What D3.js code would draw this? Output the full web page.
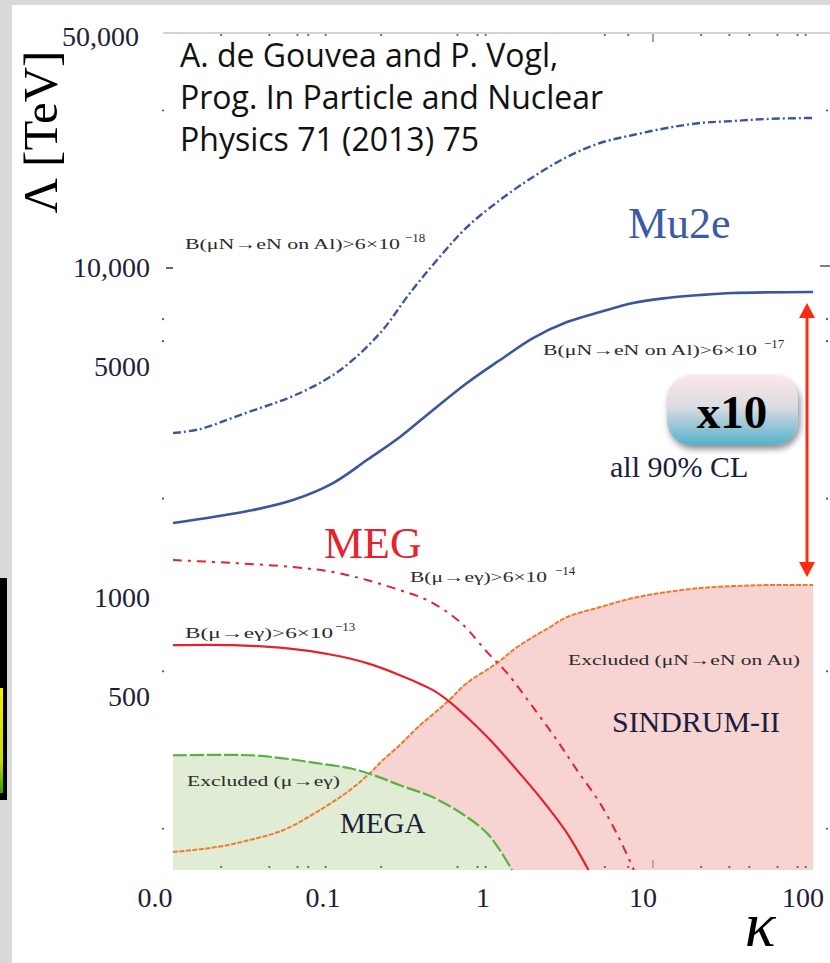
<!DOCTYPE html>
<html>
<head>
<meta charset="utf-8">
<script src="https://cdn.jsdelivr.net/npm/d3@7/dist/d3.min.js"></script>
<style>
  body { margin: 0; background: #d9d9d9; }
  svg { display: block; }
</style>
</head>
<body>
<div id="chart-area"></div>
<script>
// Lambda (TeV) vs kappa, de Gouvea & Vogl style plot

// tick values and labels
var kappaTicks = [0.01, 0.1, 1, 10, 100];
var kappaLabels = ["0.0", "0.1", "1", "10", "100"];
var kappaMinor = [0.02, 0.04, 0.06, 0.07, 0.09, 0.2, 0.6, 0.8, 0.9, 5, 7, 20, 30, 40, 60, 80, 90];
var lambdaTicks = [500, 1000, 5000, 10000, 50000];
var lambdaLabels = ["500", "1000", "5000", "10,000", "50,000"];
var lambdaMinor = [200, 600, 2000, 6000, 7000, 30000];

// series: [kappa, Lambda in TeV]
var mu2eDashed = [[0.01,3162],[0.0148,3251],[0.0262,3585],[0.0622,4181],[0.111,4909],[0.197,6353],[0.303,8403],[0.487,11100],[0.688,13310],[1.106,16070],[1.778,18870],[2.90,21700],[4.67,23920],[7.50,25290],[12.2,26550],[19.7,27500],[31.6,27880],[51.6,28290],[100,28490]];
var mu2eSolid = [[0.01,1688],[0.0178,1760],[0.0316,1848],[0.0562,1982],[0.1,2231],[0.163,2619],[0.262,3075],[0.422,3714],[0.688,4482],[1.106,5262],[1.778,6135],[2.90,6859],[4.67,7356],[7.50,7834],[12.2,8111],[19.7,8282],[31.6,8398],[100,8457]];
var megDashed = [[0.01,1304],[0.0237,1277],[0.0562,1241],[0.1,1199],[0.163,1134],[0.262,1057],[0.387,986],[0.622,846],[0.931,681],[1.223,593],[1.778,467],[2.51,371],[3.35,301],[4.67,239],[6.22,185],[7.6,150]];
var megSolid = [[0.01,720],[0.0237,720],[0.0487,706],[0.1,672],[0.163,635],[0.262,584],[0.422,526],[0.538,484],[0.718,427],[1.0,364],[1.413,301],[1.967,249],[2.90,194],[3.95,150]];
var megaExcl = [[0.01,334],[0.0303,334],[0.0487,327],[0.0794,316],[0.1277,305],[0.178,291],[0.262,271],[0.422,249],[0.688,217],[0.917,194],[1.106,172],[1.315,150]];
var sindrumExcl = [[0.01,170],[0.0188,176],[0.0303,185],[0.0487,198],[0.0794,225],[0.1277,262],[0.170,295],[0.205,323],[0.262,359],[0.335,404],[0.516,484],[0.688,553],[1.059,635],[1.413,710],[2.27,817],[2.90,876],[4.67,939],[7.50,1000],[12.2,1043],[19.7,1072],[31.6,1087],[51.6,1095],[100,1095]];

var W = 830, H = 963;
var svg = d3.select("#chart-area").append("svg")
	.attr("width", W).attr("height", H)
var defs = svg.append("defs")

// page background (slide)
svg.append("rect").attr("width", W).attr("height", H).attr("fill", "#d9d9d9")
svg.append("rect").attr("x", 12).attr("y", 5).attr("width", W - 12).attr("height", H - 5).attr("fill", "#ffffff")

// left slide fragment
svg.append("rect").attr("x", 0).attr("y", 578).attr("width", 7).attr("height", 222).attr("fill", "#000")
var gradLeft = defs.append("linearGradient").attr("id", "gl")
	.attr("x1", 0).attr("x2", 0).attr("y1", 0).attr("y2", 1)
gradLeft.append("stop").attr("offset", "0%").attr("stop-color", "#f5f000")
gradLeft.append("stop").attr("offset", "70%").attr("stop-color", "#c8d800")
gradLeft.append("stop").attr("offset", "100%").attr("stop-color", "#2aa000")
svg.append("rect").attr("x", 0).attr("y", 688).attr("width", 3).attr("height", 105).attr("fill", "url(#gl)")

// scales
var x = d3.scaleLog().domain([0.01, 100]).range([173, 813])
var y = d3.scaleLog().domain([150, 50000]).range([870, 37.3])

var serif = "'Liberation Serif', 'DejaVu Serif', serif"
var curve = d3.curveCatmullRom.alpha(0.5)

// fills
var area = d3.area()
	.x(d => x(d[0]))
	.y0(y(150))
	.y1(d => y(d[1]))
	.curve(curve)

svg.append("path").datum(sindrumExcl)
	.attr("d", area).attr("fill", "#f7d3d1")
svg.append("path").datum(megaExcl)
	.attr("d", area).attr("fill", "#e0edd4")

// axes frame: top line
svg.append("line")
	.attr("x1", 163).attr("x2", W).attr("y1", 33).attr("y2", 33)
	.attr("stroke", "#c4c4c4").attr("stroke-width", 1.5)

// minor ticks (dots) top/bottom
kappaMinor.forEach(k => {
	[35, 867].forEach(yy => {
		svg.append("circle").attr("cx", x(k)).attr("cy", yy).attr("r", 1.1).attr("fill", "#555")
	})
})
// major tick at 10 (top and bottom)
svg.append("line").attr("x1", x(10)).attr("x2", x(10)).attr("y1", 34).attr("y2", 42).attr("stroke", "#666").attr("stroke-width", 1.2)
svg.append("line").attr("x1", x(10)).attr("x2", x(10)).attr("y1", 860).attr("y2", 868).attr("stroke", "#888").attr("stroke-width", 1.2)

// minor ticks left/right
lambdaMinor.forEach(v => {
	[163, 827].forEach(xx => {
		svg.append("circle").attr("cx", xx).attr("cy", y(v)).attr("r", 1.1).attr("fill", "#555")
	})
})
svg.append("line").attr("x1", 166).attr("x2", 173).attr("y1", y(10000)).attr("y2", y(10000)).attr("stroke", "#333").attr("stroke-width", 1.5)
svg.append("line").attr("x1", 820).attr("x2", 830).attr("y1", y(10000) - 2).attr("y2", y(10000) - 2).attr("stroke", "#555").attr("stroke-width", 1.5)

// y tick labels
lambdaTicks.forEach((v, i) => {
	svg.append("text")
		.attr("x", v === 50000 ? 139 : 150)
		.attr("y", y(v) + 9)
		.attr("text-anchor", "end")
		.attr("font-family", serif)
		.attr("font-size", "28px")
		.attr("fill", "#1e1e3a")
		.text(lambdaLabels[i])
})

// x tick labels
kappaTicks.forEach((k, i) => {
	svg.append("text")
		.attr("x", x(k) - (i === 0 ? 18 : 10))
		.attr("y", 907)
		.attr("text-anchor", "middle")
		.attr("font-family", serif)
		.attr("font-size", "28px")
		.attr("fill", "#1e1e3a")
		.text(kappaLabels[i])
})

// curves
var line = d3.line()
	.x(d => x(d[0]))
	.y(d => y(d[1]))
	.curve(curve)

var curves = [
	{ data: sindrumExcl, color: "#f07a2a", width: 2, dash: "5,1.5" },
	{ data: megaExcl, color: "#5cb043", width: 2.2, dash: "14,3" },
	{ data: megSolid, color: "#e4222c", width: 2.2, dash: null },
	{ data: megDashed, color: "#e4222c", width: 2, dash: "9,6,3,6" },
	{ data: mu2eSolid, color: "#3b56a0", width: 2.6, dash: null },
	{ data: mu2eDashed, color: "#3b56a0", width: 2.4, dash: "8,3,2,3" }
]
curves.forEach(c => {
	svg.append("path").datum(c.data)
		.attr("d", line)
		.attr("fill", "none")
		.attr("stroke", c.color)
		.attr("stroke-width", c.width)
		.attr("stroke-dasharray", c.dash)
})

// small curve labels
function smallLabel(x0, y0, len, main, sup, supX) {
	svg.append("text")
		.attr("x", x0).attr("y", y0)
		.attr("font-family", serif)
		.attr("font-size", "15px")
		.attr("fill", "#2a2a2a")
		.attr("textLength", len)
		.attr("lengthAdjust", "spacingAndGlyphs")
		.text(main)
	if (sup) {
		svg.append("text")
			.attr("x", supX).attr("y", y0 - 7)
			.attr("font-family", serif)
			.attr("font-size", "13px")
			.attr("fill", "#2a2a2a")
			.text(sup)
	}
}
smallLabel(185, 249, 215, "B(\u03bcN\u2192eN on Al)>6\u00d710", "\u221218", 405)
smallLabel(543, 355, 214, "B(\u03bcN\u2192eN on Al)>6\u00d710", "\u221217", 764)
smallLabel(410, 582, 137, "B(\u03bc\u2192e\u03b3)>6\u00d710", "\u221214", 555)
smallLabel(185, 638, 148, "B(\u03bc\u2192e\u03b3)>6\u00d710", "\u221213", 335)
smallLabel(187, 786, 153, "Excluded (\u03bc\u2192e\u03b3)")
smallLabel(568, 665, 232, "Excluded (\u03bcN\u2192eN on Au)")

// experiment names
svg.append("text").attr("x", 628).attr("y", 238)
	.attr("font-family", serif).attr("font-size", "44px").attr("fill", "#3b5ba6")
	.text("Mu2e")
svg.append("text").attr("x", 324).attr("y", 558)
	.attr("font-family", serif).attr("font-size", "44px").attr("fill", "#e6232d")
	.text("MEG")
svg.append("text").attr("x", 610).attr("y", 477)
	.attr("font-family", serif).attr("font-size", "30px").attr("fill", "#1c1c40")
	.text("all 90% CL")
svg.append("text").attr("x", 612).attr("y", 732)
	.attr("font-family", serif).attr("font-size", "29px").attr("fill", "#1c1c40")
	.attr("textLength", 168).attr("lengthAdjust", "spacingAndGlyphs")
	.text("SINDRUM-II")
svg.append("text").attr("x", 340).attr("y", 833)
	.attr("font-family", serif).attr("font-size", "29px").attr("fill", "#1c1c40")
	.text("MEGA")

// axis titles
svg.append("text")
	.attr("transform", "translate(57,132) rotate(-90)")
	.attr("text-anchor", "middle")
	.attr("font-family", serif)
	.attr("font-size", "49px")
	.attr("fill", "#000")
	.text("\u039b [TeV]")
svg.append("text")
	.attr("x", 760).attr("y", 946)
	.attr("text-anchor", "middle")
	.attr("font-family", serif)
	.attr("font-style", "italic")
	.attr("font-size", "64px")
	.attr("fill", "#000")
	.text("\u03ba")

// citation
var cite = ["A. de Gouvea and P. Vogl,", "Prog. In Particle and Nuclear", "Physics 71 (2013) 75"]
cite.forEach((s, i) => {
	svg.append("text")
		.attr("x", 180).attr("y", 67 + i * 42)
		.attr("font-family", "'Open Sans', Lato, sans-serif")
		.attr("font-size", "32px")
		.attr("fill", "#111")
		.text(s)
})

// x10 arrow between Mu2e and SINDRUM-II at kappa = 100
var ax = 807
var yTop = y(mu2eSolid[mu2eSolid.length - 1][1]) + 11
var yBot = y(sindrumExcl[sindrumExcl.length - 1][1]) - 8
svg.append("line").attr("x1", ax).attr("x2", ax).attr("y1", yTop + 12).attr("y2", yBot - 12)
	.attr("stroke", "#ff2a10").attr("stroke-width", 3)
svg.append("path")
	.attr("d", "M" + ax + "," + yTop + "L" + (ax - 8) + "," + (yTop + 15) + "L" + (ax + 8) + "," + (yTop + 15) + "Z")
	.attr("fill", "#ff2a10")
svg.append("path")
	.attr("d", "M" + ax + "," + yBot + "L" + (ax - 8) + "," + (yBot - 15) + "L" + (ax + 8) + "," + (yBot - 15) + "Z")
	.attr("fill", "#ff2a10")

// x10 badge
var bg = defs.append("linearGradient").attr("id", "badge")
	.attr("x1", 0).attr("x2", 0).attr("y1", 0).attr("y2", 1)
bg.append("stop").attr("offset", "0%").attr("stop-color", "#fde6e9")
bg.append("stop").attr("offset", "45%").attr("stop-color", "#dcdbe2")
bg.append("stop").attr("offset", "100%").attr("stop-color", "#55b1cb")
var sh = defs.append("filter").attr("id", "shadow").attr("x", "-20%").attr("y", "-20%").attr("width", "140%").attr("height", "160%")
sh.append("feDropShadow").attr("dx", 2).attr("dy", 4).attr("stdDeviation", 3)
	.attr("flood-color", "#000").attr("flood-opacity", 0.45)
svg.append("rect")
	.attr("x", 667).attr("y", 375).attr("width", 131).attr("height", 70)
	.attr("rx", 24).attr("ry", 24)
	.attr("fill", "url(#badge)")
	.attr("filter", "url(#shadow)")
svg.append("text")
	.attr("x", 732).attr("y", 428)
	.attr("text-anchor", "middle")
	.attr("font-family", serif)
	.attr("font-weight", "bold")
	.attr("font-size", "47px")
	.attr("fill", "#000")
	.text("x10")
</script>
</body>
</html>
